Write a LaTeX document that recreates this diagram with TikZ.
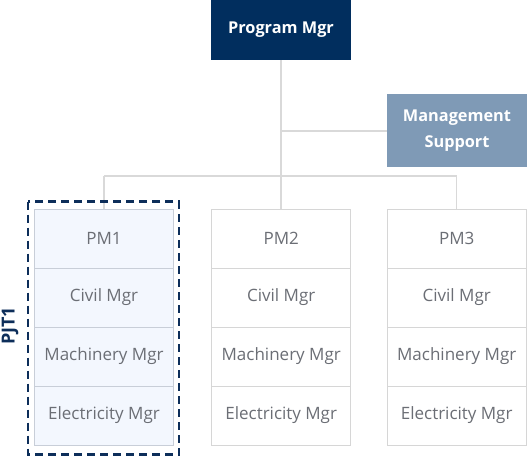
\documentclass[tikz,border=0pt]{standalone}
\usepackage{fontspec}
\setmainfont{Open Sans}
\definecolor{navy}{HTML}{012E5E}
\definecolor{steel}{HTML}{7F9AB6}
\definecolor{conn}{HTML}{D9D9D9}
\definecolor{cellline}{HTML}{D6D6D6}
\definecolor{hiline}{HTML}{C8CED8}
\definecolor{hifill}{HTML}{F3F7FE}
\definecolor{celltext}{HTML}{6B6E75}
\definecolor{dash}{HTML}{0D2E5A}
\tikzset{
  cellbox/.style={draw=cellline, line width=1pt, fill=white, minimum width=139pt, minimum height=59pt, inner sep=0pt, text=celltext, font=\fontsize{17}{20}\selectfont},
  hicell/.style={cellbox, draw=hiline, fill=hifill},
  topbox/.style={inner sep=0pt, text=white, font=\bfseries\fontsize{16.3}{26}\selectfont, align=center},
  connector/.style={draw=conn, line width=1.2pt},
}
\begin{document}
\begin{tikzpicture}[x=1pt,y=-1pt]
\useasboundingbox (0,0) rectangle (527,456);
% top boxes
\node[topbox, fill=navy, minimum width=140pt, minimum height=60pt] (pm) at (281,30) {Program Mgr};
\node[topbox, fill=steel, minimum width=140pt, minimum height=73.5pt] (ms) at (457,130.7) {Management\\Support};
% columns
\foreach \c/\x/\s in {1/104/hicell,2/281.2/cellbox,3/456.7/cellbox}{
  \node[\s] (c\c r1) at (\x,238.5) {PM\c};
  \node[\s] (c\c r2) at (\x,297.5) {Civil Mgr};
  \node[\s] (c\c r3) at (\x,356.5) {Machinery Mgr};
  \node[\s] (c\c r4) at (\x,415.5) {Electricity Mgr};
}
% connectors
\coordinate (bus) at (281,176);
\coordinate (msj) at (281,131);
\draw[connector] (pm.south) -- (c2r1.north -| pm.south);
\draw[connector] (msj) -- (ms.west |- msj);
\draw[connector] (c1r1.north |- bus) -- (c3r1.north |- bus);
\draw[connector] (c1r1.north |- bus) -- (c1r1.north);
\draw[connector] (c3r1.north |- bus) -- (c3r1.north);
% project frame
\draw[draw=dash, line width=2.8pt, dash pattern=on 8pt off 5pt] (28,201.5) rectangle (179,454.5);
\node[rotate=90, text=dash, font=\bfseries\fontsize{18}{20}\selectfont, inner sep=0pt] (pjt) at (10,326) {PJT1};
\end{tikzpicture}
\end{document}
